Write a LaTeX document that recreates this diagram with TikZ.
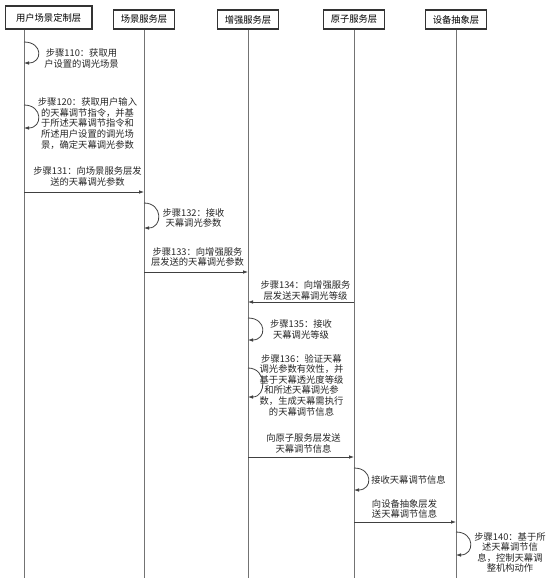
\documentclass[tikz,border=0pt]{standalone}
\usepackage{fontspec}
\setmainfont{Noto Sans CJK SC}
\usetikzlibrary{arrows.meta}

\begin{document}
\begin{tikzpicture}[x=1pt,y=-1pt,
    layer/.style ={draw=black!80, line width=1.2pt, inner sep=0pt, font=\fontsize{9.3}{11}\selectfont},
    lifeline/.style ={draw=black!55, line width=0.7pt},
    note/.style ={align=center, inner sep=0pt, text=black!85, font=\fontsize{9.3}{10.6}\selectfont},
    msg/.style ={draw=black!75, line width=0.8pt, -{Latex[length=5pt,width=3.6pt]}},
    selfmsg/.style ={msg, to path={.. controls +(19,0) and +(19,0) .. (\tikztotarget)}}]
   \useasboundingbox (0,0) rectangle (552,578);
   % layers
   \node[layer, minimum width=86.6pt, minimum height=23pt] (h1) at (48.6,17.5) {用户场景定制层};
   \node[layer, minimum width=61pt, minimum height=19pt] (h2) at (144,19.5) {场景服务层};
   \node[layer, minimum width=61pt, minimum height=19pt] (h3) at (248,19.5) {增强服务层};
   \node[layer, minimum width=61pt, minimum height=19pt] (h4) at (354,19.5) {原子服务层};
   \node[layer, minimum width=61pt, minimum height=19pt] (h5) at (456,19.5) {设备抽象层};
   \coordinate (e1) at (24,578);
   \coordinate (e2) at (144,578);
   \coordinate (e3) at (248,578);
   \coordinate (e4) at (354,578);
   \coordinate (e5) at (456,578);
   \draw[lifeline] (h1.south -| e1) -- (e1);
   \draw[lifeline] (h2) -- (e2);
   \draw[lifeline] (h3) -- (e3);
   \draw[lifeline] (h4) -- (e4);
   \draw[lifeline] (h5) -- (e5);
   % steps
   \node[note] (s110) at (81.5,58.5) {步骤110：获取用\\户设置的调光场景};
   \coordinate (p110a) at (24,42);
   \coordinate (p110b) at (24,63);
   \draw[selfmsg] (p110a) to (p110b);

   \node[note] (s120) at (87.5,123.5) {步骤120：获取用户输入\\的天幕调节指令，并基\\于所述天幕调节指令和\\所述用户设置的调光场\\景，确定天幕调光参数};
   \coordinate (p120a) at (24,105);
   \coordinate (p120b) at (24,128);
   \draw[selfmsg] (p120a) to (p120b);

   \node[note] (s131) at (87.5,176.5) {步骤131：向场景服务层发\\送的天幕调光参数};
   \coordinate (p131a) at (24,192);
   \coordinate (p131b) at (144,192);
   \draw[msg] (p131a) -- (p131b);

   \node[note] (s132) at (193.5,218) {步骤132：接收\\天幕调光参数};
   \coordinate (p132a) at (144,203);
   \coordinate (p132b) at (144,228);
   \draw[selfmsg] (p132a) to (p132b);

   \node[note] (s133) at (197.5,257) {步骤133：向增强服务\\层发送的天幕调光参数};
   \coordinate (p133a) at (144,272);
   \coordinate (p133b) at (248,272);
   \draw[msg] (p133a) -- (p133b);

   \node[note] (s134) at (305.5,290.5) {步骤134：向增强服务\\层发送天幕调光等级};
   \coordinate (p134a) at (354,302);
   \coordinate (p134b) at (248,302);
   \draw[msg] (p134a) -- (p134b);

   \node[note] (s135) at (301,329.5) {步骤135：接收\\天幕调光等级};
   \coordinate (p135a) at (248,318);
   \coordinate (p135b) at (248,340);
   \draw[selfmsg] (p135a) to (p135b);

   \node[note] (s136) at (301.5,385) {步骤136：验证天幕\\调光参数有效性，并\\基于天幕透光度等级\\和所述天幕调光参\\数，生成天幕需执行\\的天幕调节信息};
   \coordinate (p136a) at (248,368);
   \coordinate (p136b) at (248,397);
   \draw[selfmsg] (p136a) to (p136b);

   \node[note] (s137) at (303.5,443.5) {向原子服务层发送\\天幕调节信息};
   \coordinate (p137a) at (248,457);
   \coordinate (p137b) at (354,457);
   \draw[msg] (p137a) -- (p137b);

   \node[note] (s138) at (408.5,480) {接收天幕调节信息};
   \coordinate (p138a) at (354,468);
   \coordinate (p138b) at (354,490);
   \draw[selfmsg] (p138a) to (p138b);

   \node[note] (s139) at (404.5,509) {向设备抽象层发\\送天幕调节信息};
   \coordinate (p139a) at (354,522);
   \coordinate (p139b) at (456,522);
   \draw[msg] (p139a) -- (p139b);

   \node[note] (s140) at (510,552.5) {步骤140：基于所\\述天幕调节信\\息，控制天幕调\\整机构动作};
   \coordinate (p140a) at (456,532);
   \coordinate (p140b) at (456,555);
   \draw[selfmsg] (p140a) to (p140b);
\end{tikzpicture}
\end{document}
